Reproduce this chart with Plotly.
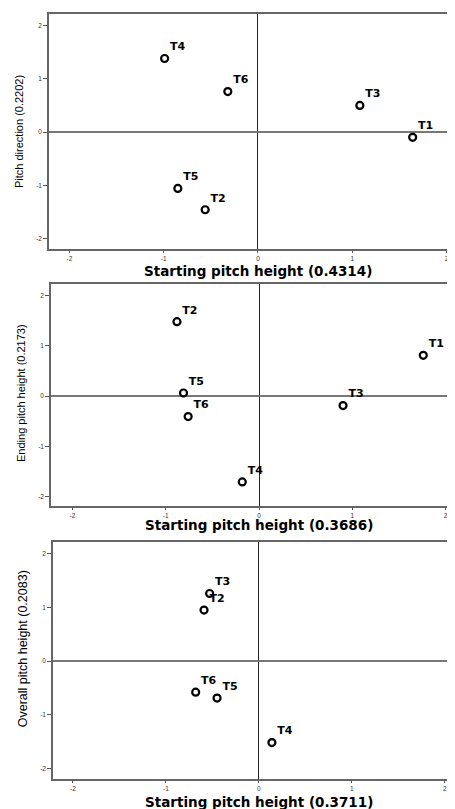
import plotly.graph_objects as go

labels = ["T1", "T2", "T3", "T4", "T5", "T6"]

# Panel 1: Starting pitch height (0.4314) vs Pitch direction (0.2202)
p1_x = [1.64, -0.56, 1.08, -0.99, -0.85, -0.32]
p1_y = [-0.10, -1.46, 0.50, 1.38, -1.06, 0.76]

# Panel 2: Starting pitch height (0.3686) vs Ending pitch height (0.2173)
p2_x = [1.76, -0.88, 0.90, -0.18, -0.81, -0.76]
p2_y = [0.81, 1.48, -0.19, -1.71, 0.06, -0.41]

# Panel 3: Starting pitch height (0.3711) vs Overall pitch height (0.2083)
p3_x = [2.33, -0.59, -0.53, 0.14, -0.45, -0.68]
p3_y = [0.78, 0.95, 1.26, -1.52, -0.69, -0.58]

x_titles = ["Starting pitch height (0.4314)",
            "Starting pitch height (0.3686)",
            "Starting pitch height (0.3711)"]
y_titles = ["Pitch direction (0.2202)",
            "Ending pitch height (0.2173)",
            "Overall pitch height (0.2083)"]
tick_vals = [-2, -1, 0, 1, 2]
tick_text = ["-2", "-1", "0", "1", "2"]

# the page body has an 8px margin; the figure fills the rest of the window
O = 8
W, H = 455 - O, 809 - O

panels = [
    dict(x=p1_x, y=p1_y, left=49, top=14, bottom=249, xr=[-2.216, 2.089], yr=[-2.197, 2.216],
         xt_y=271, yt_x=19, yt_y=0.0, yt_size=11),
    dict(x=p2_x, y=p2_y, left=51, top=284, bottom=506, xr=[-2.23, 2.10], yr=[-2.189, 2.229],
         xt_y=525, yt_x=21, yt_y=0.06, yt_size=11),
    dict(x=p3_x, y=p3_y, left=53, top=542, bottom=779, xr=[-2.215, 2.11], yr=[-2.2, 2.22],
         xt_y=802, yt_x=23, yt_y=0.22, yt_size=12.5),
]

fig = go.Figure()
layout = dict(
    width=W, height=H, margin=dict(l=0, r=0, t=0, b=0),
    paper_bgcolor="white", plot_bgcolor="white", showlegend=False,
    annotations=[],
)

for i, p in enumerate(panels):
    n = "" if i == 0 else str(i + 1)
    xa, ya = "x" + n, "y" + n
    positions = ["top right"] * len(labels)
    if i == 2:
        positions[0] = "top left"
    fig.add_trace(go.Scatter(
        x=p["x"], y=p["y"], xaxis=xa, yaxis=ya,
        mode="markers+text", text=labels, textposition=positions,
        cliponaxis=False,
        marker=dict(symbol="circle-open", size=7, color="black", line=dict(width=2.2, color="black")),
        textfont=dict(family="DejaVu Sans", size=11, color="black", weight="bold"),
        hoverinfo="skip",
    ))
    axis_common = dict(
        tickmode="array", tickvals=tick_vals, ticktext=tick_text,
        ticks="outside", ticklen=2, tickwidth=1, tickcolor="#555",
        tickfont=dict(family="Liberation Sans", size=6.5, color="#333"),
        showgrid=False, showline=True, linecolor="#666", linewidth=1.5,
        zeroline=True,
    )
    layout["xaxis" + n] = dict(
        axis_common, domain=[(p["left"] - O) / W, 1], range=p["xr"], anchor=ya,
        mirror=True, zerolinecolor="#222", zerolinewidth=1.2, ticklabelstandoff=0,
    )
    layout["yaxis" + n] = dict(
        axis_common, ticklen=4, domain=[(809 - p["bottom"]) / H, (809 - p["top"]) / H],
        range=p["yr"], anchor=xa, zerolinecolor="#777", zerolinewidth=1.5,
    )
    layout["annotations"].append(dict(
        text=x_titles[i], xref=xa, x=0, yref="paper", y=(809 - p["xt_y"]) / H,
        xanchor="center", yanchor="middle", showarrow=False,
        font=dict(family="DejaVu Sans", size=13.5, color="black", weight="bold"),
    ))
    layout["annotations"].append(dict(
        text=y_titles[i], xref="paper", x=(p["yt_x"] - O) / W, yref=ya, y=p["yt_y"],
        xanchor="center", yanchor="middle", showarrow=False, textangle=-90,
        font=dict(family="Liberation Sans", size=p["yt_size"], color="black"),
    ))

fig.update_layout(**layout)
fig.write_html("out.html")
